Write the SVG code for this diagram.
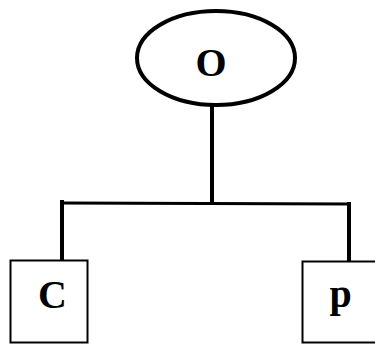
<svg xmlns="http://www.w3.org/2000/svg" width="375" height="345" viewBox="0 0 375 345">
  <style>
    .bg { fill: #ffffff; }
    .shape { fill: #ffffff; stroke: #000000; }
    .link { fill: none; stroke: #000000; stroke-linecap: square; }
    .label { font-family: "Liberation Serif", "Times New Roman", serif; font-weight: bold; font-size: 40px; fill: #000000; text-anchor: middle; }
  </style>
  <rect class="bg" x="0" y="0" width="375" height="345"/>

  <!-- tree connectors -->
  <g id="connectors">
    <line class="link" x1="212" y1="107" x2="212" y2="202" stroke-width="4"/>
    <line class="link" x1="62" y1="203" x2="349" y2="204" stroke-width="3"/>
    <line class="link" x1="62" y1="202" x2="62" y2="259" stroke-width="4"/>
    <line class="link" x1="349" y1="204" x2="349" y2="260" stroke-width="4"/>
  </g>

  <g id="node-o">
    <ellipse class="shape" cx="216" cy="58" rx="79" ry="47" stroke-width="4"/>
    <text class="label" x="211" y="76">O</text>
  </g>

  <g id="node-c">
    <rect class="shape" x="10.5" y="260.5" width="77" height="82" stroke-width="2"/>
    <text class="label" x="52.5" y="308">C</text>
  </g>

  <g id="node-p">
    <rect class="shape" x="302.5" y="261.5" width="80" height="81" stroke-width="2"/>
    <text class="label" x="340.5" y="307">p</text>
  </g>
</svg>
